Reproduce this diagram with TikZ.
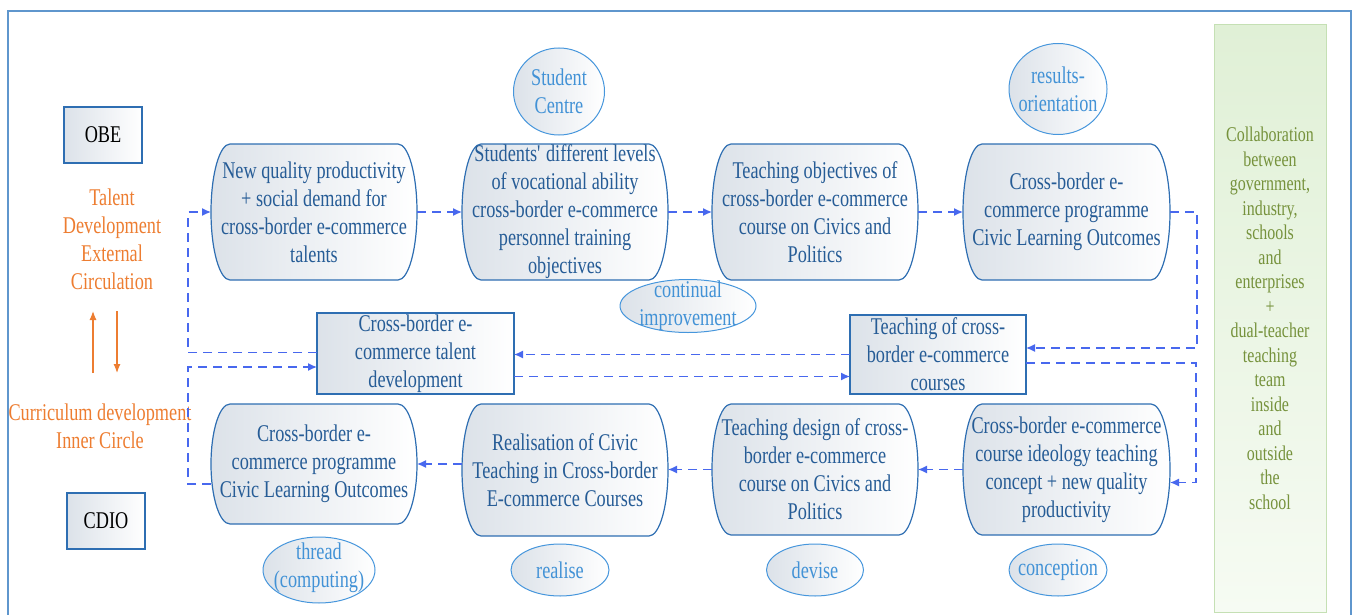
\documentclass[tikz,border=0pt]{standalone}
\usepackage{fontspec}
\setmainfont{Liberation Serif}[FakeStretch=0.76]
\usetikzlibrary{arrows.meta,shapes.geometric}

\definecolor{frameblue}{RGB}{95,150,205}
\definecolor{capline}{RGB}{46,110,178}
\definecolor{captxt}{RGB}{38,92,150}
\definecolor{capshade}{RGB}{220,226,233}
\definecolor{ovline}{RGB}{70,150,220}
\definecolor{ovtxt}{RGB}{66,146,214}
\definecolor{flow}{RGB}{72,104,238}
\definecolor{loopc}{RGB}{237,125,49}
\definecolor{teamline}{RGB}{197,224,180}
\definecolor{teamfill}{RGB}{224,240,214}
\definecolor{teamlow}{RGB}{246,251,243}
\definecolor{teamtxt}{RGB}{118,146,60}

\tikzset{
  bigfont/.style={font=\fontsize{24}{28}\selectfont},
  capfill/.style={draw=capline, line width=1.2pt, left color=capshade, right color=white},
  captext/.style={bigfont, text=captxt, align=center, inner sep=0pt, outer sep=0pt},
  rectbox/.style={draw=capline, line width=1.2pt, left color=capshade, right color=white,
    bigfont, text=captxt, align=center, inner sep=0pt, outer sep=0pt},
  tagbox/.style={rectbox, text=black},
  oval/.style={ellipse, draw=ovline, line width=1pt, left color=capshade, right color=white,
    inner sep=0pt, outer sep=0pt},
  ovaltext/.style={bigfont, text=ovtxt, align=center, inner sep=0pt},
  flowline/.style={draw=flow, line width=1.3pt, dash pattern=on 9pt off 6pt},
  flowarrow/.style={flowline, -{Latex[length=9pt,width=8pt]}},
  loopnote/.style={bigfont, text=loopc, align=center},
  looparrow/.style={draw=loopc, line width=1.2pt, -{Latex[length=9pt,width=7pt]}},
}

% rounded box with elliptical ends: name, x, y, width, height, text
\newcommand\roundedpill[6]{%
  \path[capfill] (#2-#4/2+19,#3+#5/2) -- (#2+#4/2-19,#3+#5/2)
    arc[start angle=90,end angle=-90,x radius=19,y radius=#5/2]
    -- (#2-#4/2+19,#3-#5/2)
    arc[start angle=270,end angle=90,x radius=19,y radius=#5/2] -- cycle;
  \node[captext, minimum width=#4, minimum height=#5] (#1) at (#2,#3) {#6};
}

\begin{document}
\begin{tikzpicture}[x=1pt,y=1pt]
\useasboundingbox (0,0) rectangle (1354,-615);

% outer frame
\draw[frameblue, line width=1.6pt] (8,-615) -- (8,-11) -- (1351,-11) -- (1351,-615);

% collaboration column
\node[draw=teamline, line width=1pt, top color=teamfill, bottom color=teamlow,
  minimum width=112, minimum height=587, inner sep=0pt, align=center,
  font=\fontsize{21}{24.5}\selectfont, text=teamtxt] (team) at (1270,-318.5)
  {Collaboration\\between\\government,\\industry,\\schools\\and\\enterprises\\+\\dual-teacher\\teaching\\team\\inside\\and\\outside\\the\\school};

% top row
\roundedpill{b1}{314}{-212}{206}{136}{New quality productivity\\+ social demand for\\cross-border e-commerce\\talents}
\roundedpill{b2}{565}{-212}{206}{136}{Students\textquotesingle{} different levels\\of vocational ability\\cross-border e-commerce\\personnel training\\objectives}
\roundedpill{b3}{815}{-212}{206}{136}{Teaching objectives of\\cross-border e-commerce\\course on Civics and\\Politics}
\roundedpill{b4}{1066.5}{-212}{207}{136}{Cross-border e-\\commerce programme\\Civic Learning Outcomes}

% bottom row
\roundedpill{b5}{1066.5}{-469.5}{207}{131}{Cross-border e-commerce\\course ideology teaching\\concept + new quality\\productivity}
\roundedpill{b6}{815}{-469.5}{206}{131}{Teaching design of cross-\\border e-commerce\\course on Civics and\\Politics}
\roundedpill{b7}{565}{-470}{206}{132}{Realisation of Civic\\Teaching in Cross-border\\E-commerce Courses}
\roundedpill{b8}{314}{-464}{206}{120}{Cross-border e-\\commerce programme\\Civic Learning Outcomes}

% middle boxes
\node[rectbox, minimum width=197, minimum height=81] (talent) at (415.5,-353.5)
  {Cross-border e-\\commerce talent\\development};
\node[rectbox, minimum width=176, minimum height=79] (teach) at (938,-354.5)
  {Teaching of cross-\\border e-commerce\\courses};

% model tags
\node[tagbox, minimum width=78, minimum height=56] (obe) at (103,-135) {OBE};
\node[tagbox, minimum width=78, minimum height=56] (cdio) at (106,-521) {CDIO};

% principle ovals
\node[oval, minimum width=91, minimum height=87,
  label={[ovaltext]center:{Student\\Centre}}] (studc) at (559,-91.5) {};
\node[oval, minimum width=98, minimum height=91,
  label={[ovaltext]center:{results-\\orientation}}] (resor) at (1058,-89) {};
\node[oval, minimum width=136, minimum height=53,
  label={[ovaltext]center:{continual\\improvement}}] (contimp) at (688,-306) {};
\node[oval, minimum width=112, minimum height=66,
  label={[ovaltext,yshift=2]center:{thread\\(computing)}}] (thread) at (319,-570) {};
\node[oval, minimum width=98, minimum height=52,
  label={[ovaltext]center:{realise}}] (realise) at (560,-570) {};
\node[oval, minimum width=97, minimum height=52,
  label={[ovaltext]center:{devise}}] (devise) at (815,-570) {};
\node[oval, minimum width=98, minimum height=52,
  label={[ovaltext]center:{conception}}] (concep) at (1058,-570) {};

% circulation labels
\node[loopnote] (ext) at (112,-239) {Talent\\Development\\External\\Circulation};
\node[loopnote] (inner) at (100,-426) {Curriculum development\\Inner Circle};
\coordinate (upfoot) at (93,-373);
\coordinate (uphead) at (93,-311);
\coordinate (dnfoot) at (117,-311);
\coordinate (dnhead) at (117,-373);
\draw[looparrow] (upfoot) -- (uphead);
\draw[looparrow] (dnfoot) -- (dnhead);

% flow connectors
\draw[flowarrow] (b1.east) -- (b2.west);
\draw[flowarrow] (b2.east) -- (b3.west);
\draw[flowarrow] (b3.east) -- (b4.west);
\draw[flowarrow] (b4.east) -- ++(27,0) |- ([yshift=6.5]teach.east);
\draw[flowarrow] ([yshift=-8.5]teach.east) -- ++(170,0) |- ([yshift=-13]b5.east);
\draw[flowarrow] (b5.west) -- (b6.east);
\draw[flowarrow] (b6.west) -- (b6.west -| b7.east);
\draw[flowarrow] (b7.west |- b8.east) -- (b8.east);
\draw[flowarrow] ([yshift=-20]b8.west) -- ++(-23,0) |- ([yshift=-13.5]talent.west);
\draw[flowarrow] ([yshift=1]talent.west) -- ++(-129,0) |- (b1.west);
\draw[flowarrow] (teach.west) -- (teach.west -| talent.east);
\draw[flowarrow] ([yshift=-23]talent.east) -- ([yshift=-23]talent.east -| teach.west);
\end{tikzpicture}
\end{document}
